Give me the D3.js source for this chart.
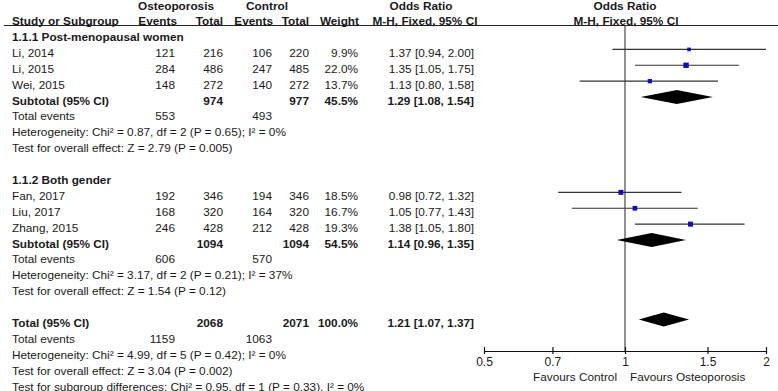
<!DOCTYPE html>
<html>
<head>
<meta charset="utf-8">
<script src="https://cdn.jsdelivr.net/npm/d3@7"></script>
<style>
  body { margin: 0; background: #fff; }
  text { font-family: "Liberation Sans", Arial, sans-serif; font-size: 11.8px; fill: #1a1a1a; }
  .b { font-weight: bold; }
</style>
</head>
<body>
<div id="forest"></div>
<script>
// study level data
var studies = ["Li, 2014", "Li, 2015", "Wei, 2015", "Fan, 2017", "Liu, 2017", "Zhang, 2015"]
var studyGroup = [0, 0, 0, 1, 1, 1]
var osteoEvents = [121, 284, 148, 192, 168, 246]
var osteoTotal = [216, 486, 272, 346, 320, 428]
var ctrlEvents = [106, 247, 140, 194, 164, 212]
var ctrlTotal = [220, 485, 272, 346, 320, 428]
var weights = [9.9, 22.0, 13.7, 18.5, 16.7, 19.3]
var oddsRatio = [1.37, 1.35, 1.13, 0.98, 1.05, 1.38]
var ciLow = [0.94, 1.05, 0.80, 0.72, 0.77, 1.05]
var ciHigh = [2.00, 1.75, 1.58, 1.32, 1.43, 1.80]

// subgroup summaries
var subgroups = ["1.1.1 Post-menopausal women", "1.1.2 Both gender"]
var subOsteoTotal = [974, 1094]
var subCtrlTotal = [977, 1094]
var subOsteoEvents = [553, 606]
var subCtrlEvents = [493, 570]
var subWeight = [45.5, 54.5]
var subOR = [1.29, 1.14]
var subLow = [1.08, 0.96]
var subHigh = [1.54, 1.35]
var subHet = ["Chi² = 0.87, df = 2 (P = 0.65); I² = 0%", "Chi² = 3.17, df = 2 (P = 0.21); I² = 37%"]
var subZ = ["Z = 2.79 (P = 0.005)", "Z = 1.54 (P = 0.12)"]

// overall
var totOsteo = 2068, totCtrl = 2071, totWeight = 100.0
var totOR = 1.21, totLow = 1.07, totHigh = 1.37
var totOsteoEvents = 1159, totCtrlEvents = 1063
var totHet = "Chi² = 4.99, df = 5 (P = 0.42); I² = 0%"
var totZ = "Z = 3.04 (P = 0.002)"
var subDiff = "Chi² = 0.95, df = 1 (P = 0.33), I² = 0%"

var axisTicks = [0.5, 0.7, 1, 1.5, 2]

var width = 778, height = 391

var svg = d3.select("#forest")
  .append("svg")
    .attr("width", width)
    .attr("height", height)

var fmtW = function(v) { return d3.format(".1f")(v) + "%" }
var fmtOR = function(o, l, h) { var f = d3.format(".2f"); return f(o) + " [" + f(l) + ", " + f(h) + "]" }

// build the list of rows
var rows = []
subgroups.forEach(function(name, g) {
  rows.push({kind: "title", label: name})
  studies.forEach(function(s, i) {
    if (studyGroup[i] != g) return
    rows.push({kind: "study", label: s, oe: osteoEvents[i], ot: osteoTotal[i], ce: ctrlEvents[i], ct: ctrlTotal[i],
      w: weights[i], or: oddsRatio[i], lo: ciLow[i], hi: ciHigh[i]})
  })
  rows.push({kind: "sum", label: "Subtotal (95% CI)", ot: subOsteoTotal[g], ct: subCtrlTotal[g], w: subWeight[g],
    or: subOR[g], lo: subLow[g], hi: subHigh[g]})
  rows.push({kind: "events", label: "Total events", oe: subOsteoEvents[g], ce: subCtrlEvents[g]})
  rows.push({kind: "note", label: "Heterogeneity: " + subHet[g]})
  rows.push({kind: "note", label: "Test for overall effect: " + subZ[g]})
  rows.push({kind: "blank"})
})
rows.push({kind: "sum", label: "Total (95% CI)", ot: totOsteo, ct: totCtrl, w: totWeight, or: totOR, lo: totLow, hi: totHigh})
rows.push({kind: "events", label: "Total events", oe: totOsteoEvents, ce: totCtrlEvents})
rows.push({kind: "note", label: "Heterogeneity: " + totHet})
rows.push({kind: "note", label: "Test for overall effect: " + totZ})
rows.push({kind: "note", label: "Test for subgroup differences: " + subDiff})

// scales
var y = d3.scaleLinear().domain([0, rows.length - 1]).range([37, 386.5])
var x = d3.scaleLog().domain([0.5, 2]).range([484, 766])
var size = d3.scaleSqrt().domain([0, 22]).range([0, 5.4])
var axisY = 351

var col = {oe: 175, ot: 223, ce: 272, ct: 309, w: 358, or: 474}

// header
var head = svg.append("g").attr("class", "b")
head.append("text").attr("x", 176).attr("y", 10).attr("text-anchor", "middle").text("Osteoporosis")
head.append("text").attr("x", 267).attr("y", 10).attr("text-anchor", "middle").text("Control")
head.append("text").attr("x", 421).attr("y", 10).attr("text-anchor", "middle").text("Odds Ratio")
head.append("text").attr("x", 625).attr("y", 10).attr("text-anchor", "middle").text("Odds Ratio")
head.append("text").attr("x", 12).attr("y", 25).text("Study or Subgroup")
var hcols = [["Events", 177], ["Total", 223], ["Events", 273], ["Total", 309], ["Weight", 359]]
hcols.forEach(function(h) {
  head.append("text").attr("x", h[1]).attr("y", 25).attr("text-anchor", "end").text(h[0])
})
head.append("text").attr("x", 425).attr("y", 25).attr("text-anchor", "middle").text("M-H, Fixed, 95% CI")
head.append("text").attr("x", 626).attr("y", 25).attr("text-anchor", "middle").text("M-H, Fixed, 95% CI")

svg.append("line")
  .attr("x1", 4).attr("x2", width)
  .attr("y1", 25.5).attr("y2", 25.5)
  .attr("stroke", "#222").attr("stroke-width", 1)

// null line
svg.append("line")
  .attr("x1", x(1)).attr("x2", x(1))
  .attr("y1", 26).attr("y2", axisY)
  .attr("stroke", "#555").attr("stroke-width", 1.3)

// table text
var rowG = svg.selectAll(".row")
  .data(rows)
  .enter()
  .append("g")
    .attr("class", function(d) { return (d.kind == "title" || d.kind == "sum") ? "row b" : "row" })
    .attr("transform", function(d, i) { return "translate(0," + (y(i) + 4) + ")" })

rowG.append("text")
  .attr("x", 12)
  .text(function(d) { return d.label || "" })

var cells = [
  ["oe", function(d) { return d.oe }],
  ["ot", function(d) { return d.ot }],
  ["ce", function(d) { return d.ce }],
  ["ct", function(d) { return d.ct }],
  ["w", function(d) { return d.w != null ? fmtW(d.w) : null }],
  ["or", function(d) { return d.or != null ? fmtOR(d.or, d.lo, d.hi) : null }]
]
cells.forEach(function(c) {
  rowG.filter(function(d) { return c[1](d) != null })
    .append("text")
      .attr("x", col[c[0]])
      .attr("text-anchor", "end")
      .text(c[1])
})

// study CIs and squares
var studyRows = rows.map(function(d, i) { d.idx = i; return d }).filter(function(d) { return d.kind == "study" })

svg.selectAll(".ci")
  .data(studyRows)
  .enter()
  .append("line")
    .attr("x1", function(d) { return x(d.lo) })
    .attr("x2", function(d) { return x(d.hi) })
    .attr("y1", function(d) { return y(d.idx) - 3.5 })
    .attr("y2", function(d) { return y(d.idx) - 3.5 })
    .attr("stroke", "#333")
    .attr("stroke-width", 1.2)

svg.selectAll(".sq")
  .data(studyRows)
  .enter()
  .append("rect")
    .attr("x", function(d) { return x(d.or) - size(d.w) / 2 })
    .attr("y", function(d) { return y(d.idx) - 3.5 - size(d.w) / 2 })
    .attr("width", function(d) { return size(d.w) })
    .attr("height", function(d) { return size(d.w) })
    .attr("fill", "#1010b8")

// diamonds
var sumRows = rows.filter(function(d) { return d.kind == "sum" })
svg.selectAll(".dia")
  .data(sumRows)
  .enter()
  .append("path")
    .attr("d", function(d) {
      var cy = y(d.idx) - 3.5
      return "M" + x(d.lo) + "," + cy + "L" + x(d.or) + "," + (cy - 7) +
        "L" + x(d.hi) + "," + cy + "L" + x(d.or) + "," + (cy + 7) + "Z"
    })
    .attr("fill", "#000")

// axis
var axis = svg.append("g")
  .attr("transform", "translate(0," + axisY + ")")
  .call(d3.axisBottom(x).tickValues(axisTicks).tickFormat(function(d) { return d })
    .tickSizeInner(3).tickSizeOuter(0).tickPadding(3))
axis.select(".domain").attr("stroke", "#111").attr("stroke-width", 1.2)
axis.selectAll(".tick line").attr("y1", -4).attr("stroke", "#111").attr("stroke-width", 1.2)
axis.selectAll(".tick text")
  .style("font-family", "'Liberation Sans', Arial, sans-serif")
  .style("font-size", "12px")
  .attr("fill", "#1a1a1a")

svg.append("text").attr("x", x(1) - 8).attr("y", 381).attr("text-anchor", "end").text("Favours Control")
svg.append("text").attr("x", x(1) + 5).attr("y", 381).text("Favours Osteoporosis")
</script>
</body>
</html>
